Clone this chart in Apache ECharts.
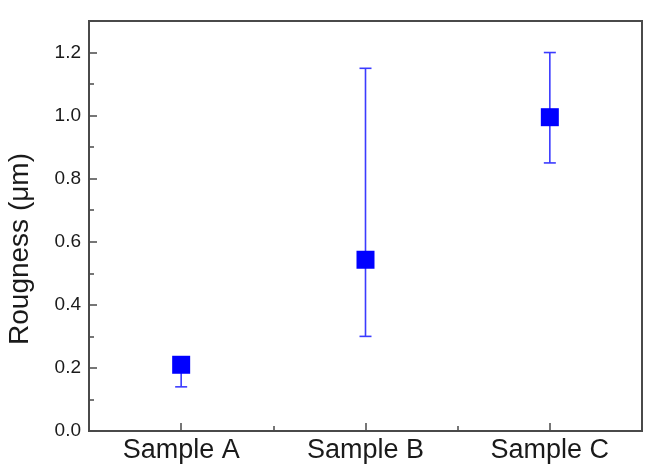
<!DOCTYPE html>
<html>
<head>
<meta charset="utf-8">
<script src="https://cdn.jsdelivr.net/npm/echarts@6/dist/echarts.min.js"></script>
<style>
  html, body { margin: 0; padding: 0; background: #fff; }
  #chart { width: 658px; height: 468px; }
</style>
</head>
<body>
<div id="chart"></div>
<script>
// values
const samples = ['Sample A', 'Sample B', 'Sample C'];
const roughness = [0.21, 0.543, 0.995];
const errLow = [0.14, 0.30, 0.85];
const errHigh = [0.22, 1.15, 1.20];

const chart = echarts.init(document.getElementById('chart'));

const errData = samples.map((s, i) => [i, errLow[i], errHigh[i]]);
const pointData = samples.map((s, i) => [i, roughness[i]]);

const font = '"Liberation Sans", Arial, sans-serif';
const axisColor = '#4a4a4a';

const option = {
  animation: false,
  grid: {
    left: 89, right: 16, top: 21, bottom: 37,
    show: true, borderColor: axisColor, borderWidth: 2
  },
  xAxis: [
    {
      type: 'category',
      data: samples,
      boundaryGap: true,
      axisLine: { show: true, lineStyle: { color: axisColor, width: 2 } },
      axisTick: { show: true, alignWithLabel: true, inside: true, length: 8, lineStyle: { color: axisColor, width: 1.5 } },
      axisLabel: { fontSize: 27, fontFamily: font, color: '#1a1a1a', margin: 6 },
      splitLine: { show: false }
    },
    {
      // short ticks between the samples
      type: 'category',
      data: samples,
      position: 'bottom',
      boundaryGap: true,
      axisLine: { show: true, lineStyle: { color: axisColor, width: 2 } },
      axisTick: { show: true, inside: true, length: 5, lineStyle: { color: axisColor, width: 1.5 } },
      axisLabel: { show: false },
      splitLine: { show: false }
    }
  ],
  yAxis: [
    {
      type: 'value',
      min: 0, max: 1.3, interval: 0.2,
      axisLine: { show: true, lineStyle: { color: axisColor, width: 2 } },
      axisTick: { show: true, inside: true, length: 8, lineStyle: { color: axisColor, width: 1.5 } },
      axisLabel: {
        fontSize: 19, fontFamily: font, color: '#1a1a1a', margin: 8,
        showMaxLabel: false,
        formatter: v => v.toFixed(1)
      },
      splitLine: { show: false }
    },
    {
      // minor ticks
      type: 'value',
      position: 'left',
      min: 0, max: 1.3, interval: 0.1,
      axisLine: { show: true, lineStyle: { color: axisColor, width: 2 } },
      axisTick: { show: true, inside: true, length: 5, lineStyle: { color: axisColor, width: 1.5 } },
      axisLabel: { show: false },
      splitLine: { show: false }
    }
  ],
  graphic: [{
    type: 'text',
    x: 20, y: 249,
    rotation: Math.PI / 2,
    style: {
      text: 'Rougness (μm)',
      font: '28px ' + font,
      fill: '#1a1a1a',
      align: 'center',
      verticalAlign: 'middle'
    }
  }],
  series: [
    {
      type: 'custom',
      xAxisIndex: 0, yAxisIndex: 0,
      data: errData,
      renderItem: function (params, api) {
        const x = api.value(0);
        const lo = api.coord([x, api.value(1)]);
        const hi = api.coord([x, api.value(2)]);
        const hw = 6;
        const st = { stroke: '#3b3bff', lineWidth: 1.6 };
        return {
          type: 'group',
          children: [
            { type: 'line', shape: { x1: lo[0], y1: lo[1], x2: hi[0], y2: hi[1] }, style: st },
            { type: 'line', shape: { x1: lo[0] - hw, y1: lo[1], x2: lo[0] + hw, y2: lo[1] }, style: st },
            { type: 'line', shape: { x1: hi[0] - hw, y1: hi[1], x2: hi[0] + hw, y2: hi[1] }, style: st }
          ]
        };
      },
      z: 2
    },
    {
      type: 'scatter',
      xAxisIndex: 0, yAxisIndex: 0,
      data: pointData,
      symbol: 'rect',
      symbolSize: 18,
      itemStyle: { color: '#0000ff', opacity: 1 },
      z: 3
    }
  ]
};

chart.setOption(option);
</script>
</body>
</html>
